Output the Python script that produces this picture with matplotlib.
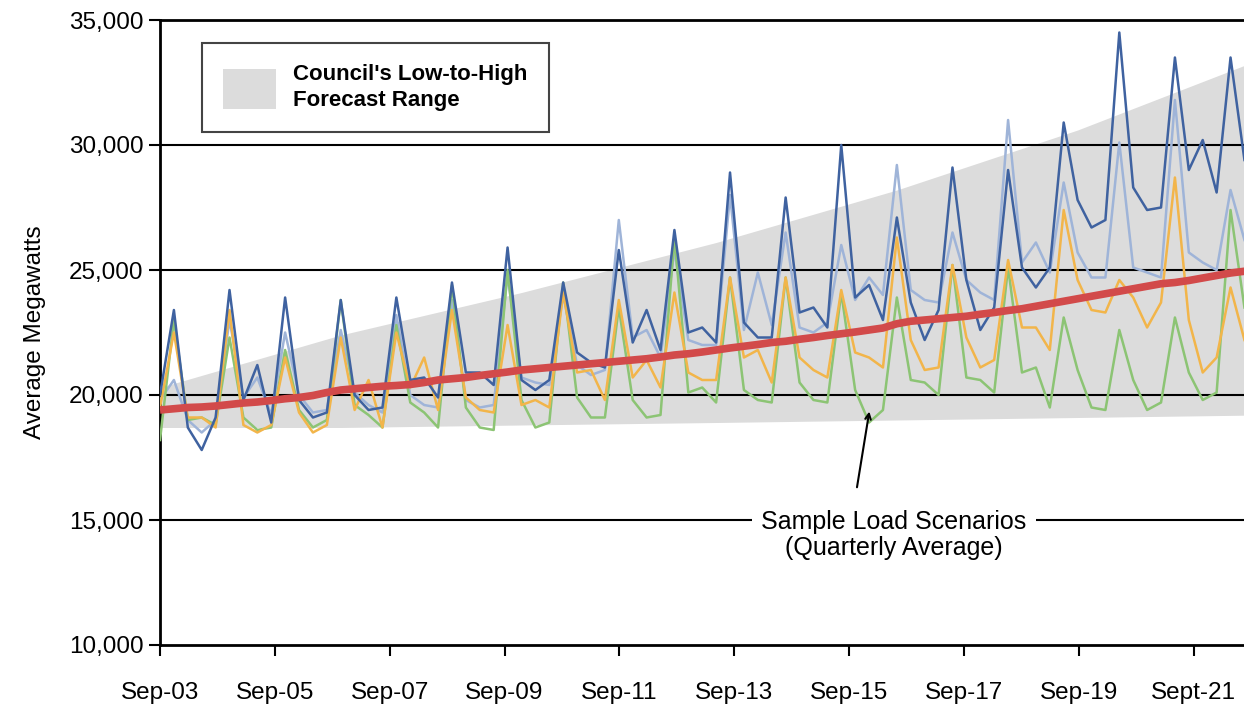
import numpy as np
import matplotlib
matplotlib.use("Agg")
from matplotlib import pyplot as plt
from matplotlib.patches import Patch
from matplotlib.ticker import FuncFormatter

plt.rcParams['font.family'] = ['Liberation Sans', 'DejaVu Sans']

# ---------------- data (quarterly average, MW) ----------------
dark_blue = [20000, 23400, 18700, 17800, 19100, 24200, 19800, 21200, 18900, 23900,
             19800, 19100, 19300, 23800, 20000, 19400, 19500, 23900, 20600, 20700,
             19900, 24500, 20900, 20900, 20400, 25900, 20600, 20200, 20600, 24500,
             21700, 21300, 21100, 25800, 22100, 23400, 21800, 26600, 22500, 22700,
             22100, 28900, 22900, 22300, 22300, 27900, 23300, 23500, 22700, 30000,
             23900, 24400, 23000, 27100, 23700, 22200, 23400, 29100, 24600, 22600,
             23500, 29000, 25100, 24300, 25100, 30900, 27800, 26700, 27000, 34500,
             28300, 27400, 27500, 33500, 29000, 30200, 28100, 33500, 29400]

light_blue = [19800, 20600, 19000, 18500, 19000, 23000, 19900, 20700, 19200, 22500,
              20000, 19300, 19400, 22600, 20100, 19600, 19300, 23200, 20000, 19600,
              19500, 23800, 19800, 19500, 19600, 24800, 20700, 20500, 20400, 24000,
              21200, 20800, 21000, 27000, 22300, 22600, 21500, 25800, 22200, 22000,
              22000, 28000, 22600, 24900, 22800, 26500, 22700, 22500, 22900, 26000,
              23800, 24700, 24000, 29200, 24200, 23800, 23700, 26500, 24600, 24100,
              23800, 31000, 25300, 26100, 24900, 28500, 25700, 24700, 24700, 30100,
              25100, 24900, 24700, 31800, 25700, 25300, 25000, 28200, 26200]

orange = [19500, 22500, 19100, 19100, 18700, 23400, 18800, 18500, 18800, 21500,
          19300, 18500, 18800, 22300, 19400, 20600, 18700, 22500, 20300, 21500,
          19400, 23400, 19900, 19400, 19300, 22800, 19600, 19800, 19500, 24100,
          20900, 21000, 19800, 23800, 20700, 21400, 20300, 24100, 20900, 20600,
          20600, 24700, 21500, 21800, 20500, 24700, 21500, 21000, 20700, 24200,
          21700, 21500, 21100, 26300, 22200, 21000, 21100, 25200, 22300, 21100,
          21400, 25400, 22700, 22700, 21800, 27400, 24600, 23400, 23300, 24600,
          23900, 22700, 23700, 28700, 23000, 20900, 21500, 24300, 22200]

green = [18200, 23000, 19000, 19100, 18800, 22300, 19100, 18600, 18700, 21800,
         19400, 18700, 19000, 23800, 19600, 19200, 18700, 22800, 19700, 19300,
         18700, 24400, 19500, 18700, 18600, 25000, 19800, 18700, 18900, 24500,
         19900, 19100, 19100, 23500, 19800, 19100, 19200, 26300, 20100, 20300,
         19700, 24700, 20200, 19800, 19700, 24700, 20500, 19800, 19700, 24100,
         20200, 18900, 19400, 23900, 20600, 20500, 20000, 25200, 20700, 20600,
         20100, 25100, 20900, 21100, 19500, 23100, 21000, 19500, 19400, 22600,
         20600, 19400, 19700, 23100, 20900, 19800, 20100, 27400, 23500]

trend = [19400, 19450, 19500, 19520, 19560, 19620, 19680, 19720, 19780, 19850,
         19900, 19980, 20100, 20200, 20250, 20300, 20350, 20380, 20420, 20500,
         20600, 20650, 20700, 20780, 20850, 20920, 21000, 21050, 21100, 21150,
         21200, 21250, 21300, 21350, 21400, 21450, 21520, 21600, 21650, 21720,
         21800, 21880, 21950, 22020, 22100, 22150, 22230, 22300, 22380, 22450,
         22520, 22600, 22680, 22850, 22950, 23000, 23050, 23100, 23150, 23230,
         23300, 23380, 23450, 23550, 23650, 23750, 23850, 23950, 24050, 24150,
         24250, 24350, 24450, 24500, 24580, 24680, 24780, 24880, 24950]

# Council forecast range (low / high) at selected quarters
band_q = [0, 13, 26, 40, 53, 66, 79]
band_high = [20300, 22400, 24100, 26100, 28200, 30600, 33400]
band_low = [18700, 18700, 18800, 18900, 19000, 19100, 19200]

tick_labels = ['Sep-03', 'Sep-05', 'Sep-07', 'Sep-09', 'Sep-11',
               'Sep-13', 'Sep-15', 'Sep-17', 'Sep-19', 'Sept-21']

q = np.arange(len(dark_blue))

# ---------------- plot ----------------
fig = plt.figure(figsize=(12.44, 7.09), dpi=100)
ax = fig.add_axes([160 / 1244, 64 / 709, 1090 / 1244, 625 / 709])

ax.fill_between(band_q, band_low, band_high, color='#dcdcdc', lw=0, zorder=1)

for yv in [15000, 20000, 25000, 30000, 35000]:
    ax.axhline(yv, color='black', lw=1.5, zorder=1.5)

ax.plot(q, light_blue, color='#9fb4d8', lw=1.8, zorder=3)
ax.plot(q, green, color='#8cc474', lw=1.8, zorder=3)
ax.plot(q, orange, color='#f2b54a', lw=1.8, zorder=3)
ax.plot(q, dark_blue, color='#3f62a0', lw=1.8, zorder=3.5)
ax.plot(q, trend, color='#d24a4a', lw=5.5, solid_capstyle='butt', zorder=4)

ax.set_xlim(0, 78.4)
ax.set_ylim(10000, 35000)
ax.set_xticks(np.arange(len(tick_labels)) * 8.26)
ax.set_xticklabels(tick_labels)
ax.set_yticks([10000, 15000, 20000, 25000, 30000, 35000])
ax.yaxis.set_major_formatter(FuncFormatter(lambda v, p: f'{int(v):,}'))
ax.tick_params(labelsize=17.5, length=8, width=1.5, color='black')
ax.tick_params(axis='x', pad=19)
ax.tick_params(axis='y', pad=4)
ax.set_ylabel('Average Megawatts', fontsize=17.5, labelpad=16)

ax.spines['right'].set_visible(False)
for s in ['left', 'bottom', 'top']:
    ax.spines[s].set_linewidth(2)

ax.text(52.8, 14400, 'Sample Load Scenarios\n(Quarterly Average)', fontsize=18,
        ha='center', va='center', linespacing=1.15, zorder=5,
        bbox=dict(facecolor='white', edgecolor='none', pad=7))
ax.annotate('', xy=(51.05, 19450), xytext=(50.1, 16200),
            arrowprops=dict(arrowstyle='->', color='black', lw=1.5), zorder=5)

leg = ax.legend(handles=[Patch(facecolor='#dcdcdc', edgecolor='none')],
                labels=["Council's Low-to-High\nForecast Range"],
                loc='upper left', bbox_to_anchor=(0.0385, 0.963),
                prop=dict(weight='bold', size=16), handlelength=2.4,
                handleheight=2.4, handletextpad=0.75, borderpad=0.95,
                labelspacing=0.3, fancybox=False, edgecolor='#444444',
                framealpha=1, borderaxespad=0)
leg.get_frame().set_linewidth(1.5)
for t in leg.get_texts():
    t.set_linespacing(1.3)

fig.savefig('out.png', dpi=100)
